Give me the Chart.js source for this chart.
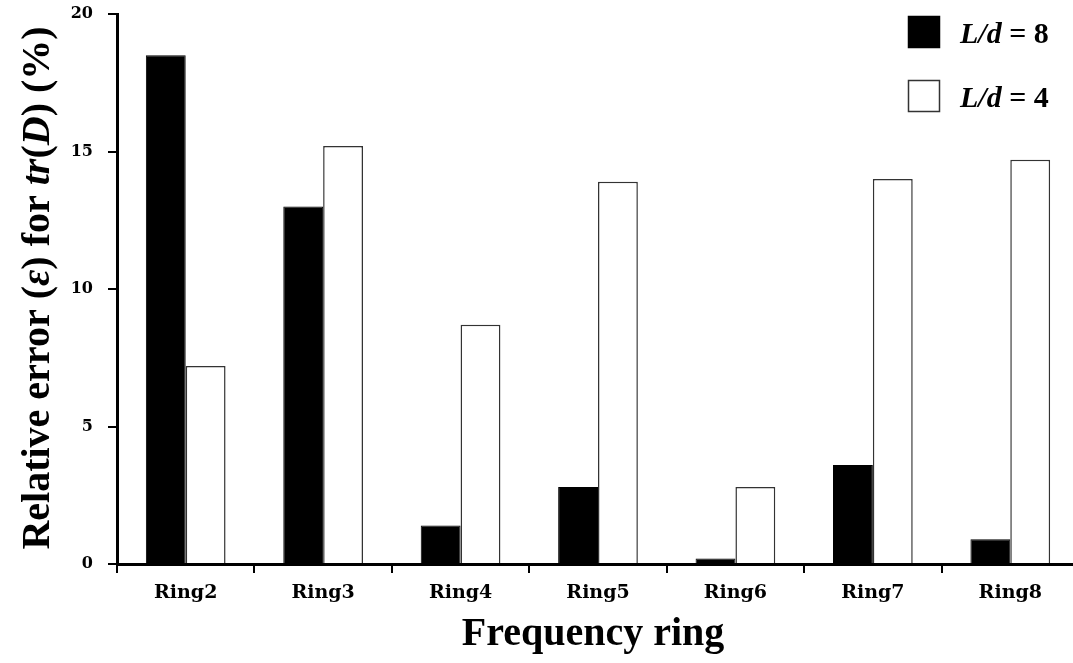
<!DOCTYPE html>
<html>
<head>
<meta charset="utf-8">
<title>Relative error</title>
<script src="https://cdn.jsdelivr.net/npm/chart.js@4.4.1/dist/chart.umd.min.js"></script>
<style>
    html, body { margin: 0; padding: 0; background: #fff; overflow: hidden; }
    #wrap { position: absolute; left: 0; top: 0; width: 1073px; height: 663px; overflow: hidden; }
    canvas { display: block; }
</style>
</head>
<body>
<div id="wrap">
    <canvas id="myBarChart" width="1079" height="663"></canvas>
</div>
<script>
// Datos
const categorias = ['Ring2', 'Ring3', 'Ring4', 'Ring5', 'Ring6', 'Ring7', 'Ring8'];
const valoresLd8 = [18.5, 13.0, 1.4, 2.8, 0.2, 3.6, 0.9];
const valoresLd4 = [7.2, 15.2, 8.7, 13.9, 2.8, 14.0, 14.7];
const etiquetasSerie = ['8', '4'];
const ticksY = [0, 5, 10, 15, 20];

// Título del eje Y con partes en cursiva
const tituloY = [
    ['Relative error (', false],
    ['\u03b5', true],
    [') for ', false],
    ['tr', true],
    ['(', false],
    ['D', true],
    [') (%)', false]
];
const tituloX = 'Frequency ring';

const serif = '"Liberation Serif", "Times New Roman", serif';

function fuente(italica, size) {
    return (italica ? 'italic ' : '') + 'bold ' + size + 'px ' + serif;
}

// Dibuja texto con trozos en cursiva, centrado en x
function textoMixto(ctx, partes, x, y, size) {
    let total = 0;
    partes.forEach(p => { ctx.font = fuente(p[1], size); total += ctx.measureText(p[0]).width; });
    let cx = x - total / 2;
    partes.forEach(p => {
        ctx.font = fuente(p[1], size);
        ctx.fillText(p[0], cx, y);
        cx += ctx.measureText(p[0]).width;
    });
}

// Plugin para títulos y leyenda
const extras = {
    id: 'extras',
    afterDraw(chart) {
        const ctx = chart.ctx;
        ctx.save();
        ctx.fillStyle = '#000';
        ctx.textBaseline = 'alphabetic';
        ctx.textAlign = 'left';

        // título eje Y (girado)
        ctx.save();
        ctx.translate(49, 288);
        ctx.rotate(-Math.PI / 2);
        textoMixto(ctx, tituloY, 0, 0, 40);
        ctx.restore();

        // título eje X
        textoMixto(ctx, [[tituloX, false]], 593, 645, 40);

        // leyenda
        chart.data.datasets.forEach((ds, i) => {
            const top = 16 + i * 64;
            ctx.fillStyle = ds.backgroundColor;
            ctx.fillRect(908, top, 32, 32);
            ctx.strokeStyle = ds.borderColor;
            ctx.lineWidth = 1.5;
            ctx.strokeRect(908.5, top + 0.5, 31, 31);
            ctx.fillStyle = '#000';
            let x = 960;
            ctx.font = fuente(true, 30);
            ctx.fillText('L/d', x, top + 27);
            x += ctx.measureText('L/d').width;
            ctx.font = fuente(false, 30);
            ctx.fillText(' = ' + etiquetasSerie[i], x, top + 27);
        });
        ctx.restore();
    }
};

const ctxBar = document.getElementById('myBarChart').getContext('2d');
const barChart = new Chart(ctxBar, {
    type: 'bar',
    data: {
        labels: categorias,
        datasets: [
            {
                label: 'L/d = ' + etiquetasSerie[0],
                data: valoresLd8,
                backgroundColor: '#000000',
                borderColor: '#000000',
                borderWidth: 1
            },
            {
                label: 'L/d = ' + etiquetasSerie[1],
                data: valoresLd4,
                backgroundColor: '#ffffff',
                borderColor: '#333333',
                borderWidth: 1.5
            }
        ]
    },
    options: {
        responsive: false,
        animation: false,
        devicePixelRatio: 1,
        categoryPercentage: 0.58,
        barPercentage: 1.0,
        layout: { padding: { left: 0, top: 14, right: 0, bottom: 0 } },
        plugins: {
            legend: { display: false },
            tooltip: { enabled: false }
        },
        scales: {
            x: {
                grid: { drawOnChartArea: false, offset: true, tickLength: 9, color: '#000', lineWidth: 2 },
                border: { display: true, color: '#000', width: 3 },
                ticks: {
                    color: '#000',
                    padding: 9,
                    maxRotation: 0,
                    font: { family: '"DejaVu Serif", serif', weight: 'bold', size: 19 }
                },
                afterFit: (s) => { s.height = 99; s.paddingLeft = 0; s.paddingRight = 0; }
            },
            y: {
                min: 0,
                max: 20,
                afterBuildTicks: (s) => { s.ticks = ticksY.map(v => ({ value: v })); },
                grid: { drawOnChartArea: false, tickLength: 9, color: '#000', lineWidth: 2 },
                border: { display: true, color: '#000', width: 3 },
                ticks: {
                    color: '#000',
                    padding: 15,
                    font: { family: '"DejaVu Serif", serif', weight: 'bold', size: 16 }
                },
                afterFit: (s) => { s.width = 117; s.paddingTop = 0; s.paddingBottom = 0; }
            }
        }
    },
    plugins: [extras]
});
</script>
</body>
</html>
